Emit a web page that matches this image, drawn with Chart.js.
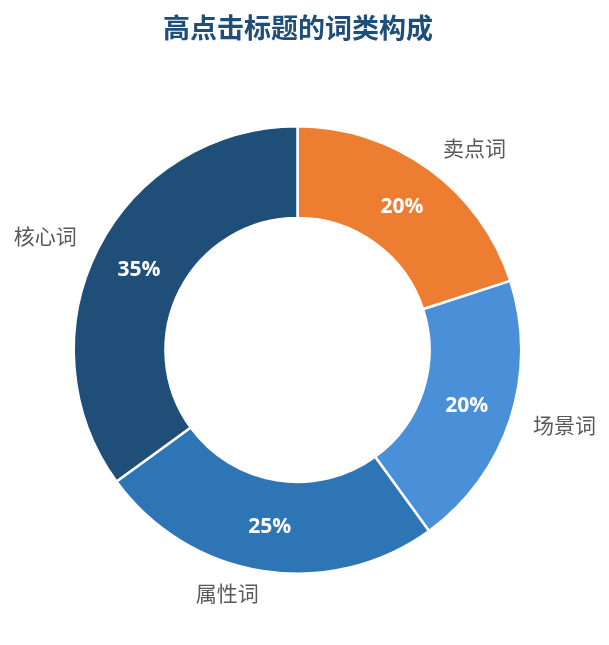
<!DOCTYPE html>
<html>
<head>
<meta charset="utf-8">
<script src="https://cdn.jsdelivr.net/npm/chart.js@4.4.0/dist/chart.umd.min.js"></script>
<style>
html,body{margin:0;padding:0;background:#fff;}
#wrap{position:relative;width:609px;height:645px;}
</style>
</head>
<body>
<div id="wrap"><canvas id="c" width="609" height="645"></canvas></div>
<script>
const titleText = '高点击标题的词类构成';
const categories = ['卖点词', '场景词', '属性词', '核心词'];
const shares = [20, 20, 25, 35];
const colors = ['#ED7D31', '#4A90D9', '#2E75B6', '#1F4E79'];

const labelPlugin = {
  id: 'labels',
  afterDatasetsDraw(chart) {
    const ctx = chart.ctx;
    const meta = chart.getDatasetMeta(0);
    const total = shares.reduce((a, b) => a + b, 0);
    meta.data.forEach((arc, i) => {
      const p = arc.getProps(['x', 'y', 'startAngle', 'endAngle', 'innerRadius', 'outerRadius'], true);
      const mid = (p.startAngle + p.endAngle) / 2;
      const rIn = (p.innerRadius + p.outerRadius) / 2;
      ctx.save();
      ctx.fillStyle = '#ffffff';
      ctx.font = 'bold 21px "Open Sans", "Noto Sans", sans-serif';
      ctx.textAlign = 'center';
      ctx.textBaseline = 'middle';
      ctx.fillText(Math.round(shares[i] / total * 100) + '%', p.x + Math.cos(mid) * rIn, p.y + Math.sin(mid) * rIn + 1);
      const rOut = p.outerRadius + 24;
      const lx = p.x + Math.cos(mid) * rOut;
      const ly = p.y + Math.sin(mid) * rOut - 2;
      ctx.fillStyle = '#595959';
      ctx.font = '21px "Noto Sans CJK SC", sans-serif';
      ctx.textAlign = lx >= p.x ? 'left' : 'right';
      ctx.fillText(categories[i], lx, ly);
      ctx.restore();
    });
    ctx.save();
    ctx.fillStyle = '#1F4E79';
    ctx.font = 'bold 27px "Noto Sans CJK SC", sans-serif';
    ctx.textAlign = 'center';
    ctx.textBaseline = 'middle';
    ctx.fillText(titleText, 298, 28);
    ctx.restore();
  }
};

new Chart(document.getElementById('c'), {
  type: 'doughnut',
  data: {
    labels: categories,
    datasets: [{
      data: shares,
      backgroundColor: colors,
      borderColor: '#ffffff',
      borderWidth: 2.5,
      hoverOffset: 0
    }]
  },
  options: {
    responsive: false,
    animation: false,
    cutout: '59%',
    layout: { padding: { top: 125, bottom: 70, left: 0, right: 14 } },
    plugins: {
      legend: { display: false },
      tooltip: { enabled: false },
      title: { display: false }
    }
  },
  plugins: [labelPlugin]
});
</script>
</body>
</html>
